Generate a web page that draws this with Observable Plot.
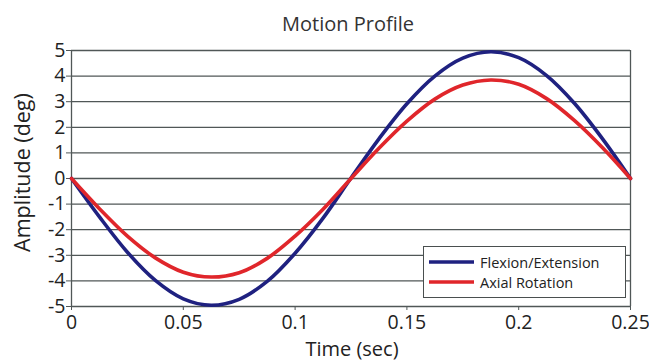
<!DOCTYPE html>
<html><head><meta charset="utf-8">
<script src="https://cdn.jsdelivr.net/npm/d3@7"></script>
<script src="https://cdn.jsdelivr.net/npm/@observablehq/plot@0.6"></script>
<style>
body{margin:0;background:#fff;font-family:"Open Sans",sans-serif;}
#wrap{position:relative;width:649px;height:363px;}
.legend{position:absolute;left:423px;top:246px;width:203px;height:52px;border:1px solid #4a4f4f;background:#fff;box-sizing:border-box;font-size:14.5px;color:#222;padding-top:5px;}
.legend .row{display:flex;align-items:center;height:20px;}
.legend svg{margin-left:5px;margin-right:6px;}
</style>
</head><body>
<div id="wrap"></div>
<script>
const titleText = "Motion Profile";
const xTitle = "Time (sec)";
const yTitle = "Amplitude (deg)";
const seriesNames = ["Flexion/Extension", "Axial Rotation"];
const seriesColors = ["#1f2180", "#e0262b"];
const time = [0, 0.0125, 0.025, 0.0375, 0.05, 0.0625, 0.075, 0.0875, 0.1, 0.1125, 0.125,
              0.1375, 0.15, 0.1625, 0.175, 0.1875, 0.2, 0.2125, 0.225, 0.2375, 0.25];
const flexion = [0, -1.50, -2.88, -3.98, -4.70, -4.95, -4.72, -4.02, -2.92, -1.55, 0.02,
                 1.55, 2.92, 4.00, 4.70, 4.95, 4.72, 4.02, 2.93, 1.55, 0];
const axial = [0, -1.18, -2.25, -3.10, -3.66, -3.85, -3.68, -3.12, -2.25, -1.20, 0,
               1.18, 2.24, 3.10, 3.65, 3.85, 3.68, 3.12, 2.26, 1.20, 0];
const xTicks = [0, 0.05, 0.1, 0.15, 0.2, 0.25];
const xTickLabels = ["0", "0.05", "0.1", "0.15", "0.2", "0.25"];
const yTicks = [-5, -4, -3, -2, -1, 0, 1, 2, 3, 4, 5];
const yTickLabels = ["-5", "-4", "-3", "-2", "-1", "0", "1", "2", "3", "4", "5"];

const rows = time.map((t, i) => ({t, flex: flexion[i], axial: axial[i]}));
const gridColor = "#505757";

const chart = Plot.plot({
  width: 649, height: 363,
  marginLeft: 71, marginRight: 19, marginTop: 50, marginBottom: 57,
  style: {fontFamily: "'Open Sans', sans-serif", background: "#fff", color: "#222"},
  x: {domain: [0, 0.25]},
  y: {domain: [-5, 5]},
  marks: [
    Plot.gridY(yTicks, {stroke: gridColor, strokeOpacity: 1, strokeWidth: 1.3}),
    Plot.ruleX([0, 0.25], {stroke: gridColor, strokeWidth: 1.3}),
    Plot.axisX(xTicks, {tickSize: 4, tickPadding: 5, fontSize: 19.5, stroke: gridColor,
      tickFormat: d => xTickLabels[xTicks.indexOf(d)], label: null}),
    Plot.axisY(yTicks, {tickSize: 5, tickPadding: 1, fontSize: 19.5, stroke: gridColor,
      tickFormat: d => yTickLabels[yTicks.indexOf(d)], label: null}),
    Plot.line(rows, {x: "t", y: "flex", stroke: seriesColors[0], strokeWidth: 3.6, curve: "catmull-rom"}),
    Plot.line(rows, {x: "t", y: "axial", stroke: seriesColors[1], strokeWidth: 3.6, curve: "catmull-rom"}),
    Plot.text([titleText], {text: d => d, frameAnchor: "top", lineAnchor: "middle", dy: -26, dx: -3, fontSize: 20, fill: "#333"}),
    Plot.text([xTitle], {text: d => d, frameAnchor: "bottom", lineAnchor: "middle", dy: 43, dx: 1, fontSize: 20, fill: "#222"}),
    Plot.text([yTitle], {text: d => d, frameAnchor: "left", textAnchor: "middle", lineAnchor: "middle", dx: -48, dy: -6, rotate: -90, fontSize: 21.5, fill: "#222"})
  ]
});
const wrap = document.getElementById("wrap");
wrap.appendChild(chart);

const legend = document.createElement("div");
legend.className = "legend";
seriesNames.forEach((name, i) => {
  const row = document.createElement("div");
  row.className = "row";
  row.innerHTML = `<svg width="45" height="6"><line x1="0" y1="3" x2="45" y2="3" stroke="${seriesColors[i]}" stroke-width="3.5"/></svg><span>${name}</span>`;
  legend.appendChild(row);
});
wrap.appendChild(legend);
</script>
</body></html>
